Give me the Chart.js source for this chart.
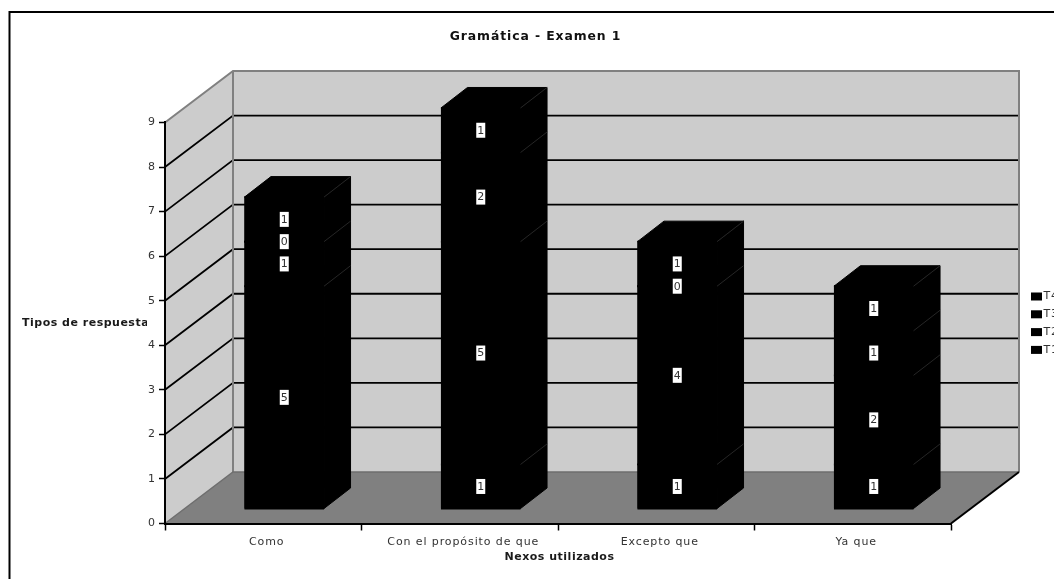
<!DOCTYPE html>
<html>
<head>
<meta charset="utf-8">
<style>
html,body{margin:0;padding:0;background:#fff;overflow:hidden;width:1054px;height:579px}
canvas{display:block}
</style>
<script src="https://cdn.jsdelivr.net/npm/chart.js@4"></script>
</head>
<body>
<canvas id="c" width="1054" height="579"></canvas>
<script>
// Stacked answer counts per connector
const categories = ['Como', 'Con el propósito de que', 'Excepto que', 'Ya que'];
const t1 = [5, 1, 1, 1];
const t2 = [1, 5, 4, 2];
const t3 = [0, 2, 0, 1];
const t4 = [1, 1, 1, 1];
const seriesNames = ['T1', 'T2', 'T3', 'T4'];
const chartTitle = 'Gramática - Examen 1';
const xCaption = 'Nexos utilizados';
const yCaption = 'Tipos de respuesta';

// Projection of the box: how far the back wall sits from the front plane,
// and where the columns stand inside that depth.
const WALL_DX = 68, WALL_DY = -51.5;
const BAR_SHIFT_X = 21, BAR_SHIFT_Y = -14.5;
const BAR_DX = 26.5, BAR_DY = -20.5;
const FONT = 'DejaVu Sans, Verdana, sans-serif';
const SPACING = '0.9px';

function poly(ctx, pts, fill, stroke, lw) {
  ctx.beginPath();
  pts.forEach((p, i) => i ? ctx.lineTo(p[0], p[1]) : ctx.moveTo(p[0], p[1]));
  ctx.closePath();
  if (fill) { ctx.fillStyle = fill; ctx.fill(); }
  if (stroke) { ctx.strokeStyle = stroke; ctx.lineWidth = lw || 1; ctx.stroke(); }
}
function line(ctx, pts, color, lw) {
  ctx.beginPath();
  pts.forEach((p, i) => i ? ctx.lineTo(p[0], p[1]) : ctx.moveTo(p[0], p[1]));
  ctx.strokeStyle = color; ctx.lineWidth = lw; ctx.stroke();
}

const box3d = {
  id: 'box3d',
  beforeDraw(chart) {
    const { ctx, chartArea: a, scales: { y } } = chart;
    ctx.letterSpacing = SPACING;
    ctx.save();
    // outer frame, running past the right and bottom of the page
    ctx.strokeStyle = '#000'; ctx.lineWidth = 2;
    ctx.strokeRect(9.5, 12, 1200, 800);
    const L = a.left, R = a.right, T = a.top, B = a.bottom;
    const bx = L + WALL_DX, rx = R + WALL_DX, dy = WALL_DY;
    // side wall, back wall, floor
    poly(ctx, [[L, B], [bx, B + dy], [bx, T + dy], [L, T]], '#cccccc');
    poly(ctx, [[bx, B + dy], [rx, B + dy], [rx, T + dy], [bx, T + dy]], '#cccccc');
    poly(ctx, [[L, B], [R, B], [rx, B + dy], [bx, B + dy]], '#808080');
    // gridlines wrap around the side and back walls
    y.ticks.forEach(t => {
      if (t.value === 0 || t.value === y.max) return;
      const py = y.getPixelForValue(t.value);
      line(ctx, [[L, py], [bx, py + dy], [rx, py + dy]], '#000', 1.8);
    });
    // wall outlines
    line(ctx, [[L, T], [bx, T + dy], [rx, T + dy], [rx, B + dy]], '#808080', 2);
    line(ctx, [[bx, T + dy], [bx, B + dy]], '#808080', 2);
    line(ctx, [[L, B], [bx, B + dy], [rx, B + dy]], '#6e6e6e', 1.5);
    line(ctx, [[R, B], [rx, B + dy]], '#000', 2);
    ctx.restore();
  },
  beforeDatasetsDraw(chart) {
    const { ctx } = chart;
    ctx.save();
    ctx.translate(BAR_SHIFT_X, BAR_SHIFT_Y);
    // side and top faces of each stacked segment
    chart.data.datasets.forEach((ds, i) => {
      chart.getDatasetMeta(i).data.forEach(el => {
        const r = el.x + el.width / 2, l = el.x - el.width / 2;
        poly(ctx, [[r, el.base], [r + BAR_DX, el.base + BAR_DY], [r + BAR_DX, el.y + BAR_DY], [r, el.y]], '#000', '#000', 1);
        poly(ctx, [[l, el.y], [l + BAR_DX, el.y + BAR_DY], [r + BAR_DX, el.y + BAR_DY], [r, el.y]], '#000', '#000', 1);
      });
    });
  },
  afterDatasetsDraw(chart) {
    const { ctx } = chart;
    // paint over hairlines between the stacked front faces
    chart.data.datasets.forEach((ds, i) => {
      chart.getDatasetMeta(i).data.forEach(el => {
        const l = el.x - el.width / 2;
        ctx.fillStyle = '#000';
        ctx.fillRect(l, el.y - 1, el.width, el.base - el.y + 2);
      });
    });
    // faint seams between segments on the side faces
    chart.data.datasets.forEach((ds, i) => {
      chart.getDatasetMeta(i).data.forEach((el, j) => {
        if (ds.data[j] === 0) return;
        const r = el.x + el.width / 2;
        line(ctx, [[r, el.y], [r + BAR_DX, el.y + BAR_DY]], '#262626', 1);
      });
    });
    ctx.restore();
    // value labels on the front faces
    ctx.save();
    ctx.font = '11px ' + FONT;
    ctx.textAlign = 'center';
    ctx.textBaseline = 'middle';
    ctx.letterSpacing = '0px';
    chart.data.datasets.forEach((ds, i) => {
      chart.getDatasetMeta(i).data.forEach((el, j) => {
        const cx = el.x + BAR_SHIFT_X;
        const cy = (el.y + el.base) / 2 + BAR_SHIFT_Y;
        ctx.fillStyle = '#fff';
        ctx.fillRect(cx - 4.5, cy - 7.5, 9, 15);
        ctx.fillStyle = '#333';
        ctx.fillText(String(ds.data[j]), cx, cy + 0.5);
      });
    });
    ctx.restore();
  },
  afterDraw(chart) {
    const { ctx } = chart;
    ctx.save();
    ctx.letterSpacing = '0.5px';
    ctx.fillStyle = '#1a1a1a';
    ctx.textBaseline = 'middle';
    // axis captions; the left one is cut off just before the axis
    ctx.font = 'bold 11px ' + FONT;
    ctx.textAlign = 'center';
    ctx.fillText(xCaption, 559.5, 557);
    ctx.textAlign = 'left';
    ctx.save();
    ctx.beginPath();
    ctx.rect(0, 300, 147, 50);
    ctx.clip();
    ctx.fillText(yCaption, 22, 323);
    ctx.restore();
    // series key, top item last in the stack
    ctx.font = '11px ' + FONT;
    ctx.letterSpacing = SPACING;
    chart.data.datasets.slice().reverse().forEach((ds, i) => {
      const y = 296.5 + i * 17.8;
      ctx.fillStyle = ds.backgroundColor;
      ctx.fillRect(1031, y - 4, 11, 8);
      ctx.fillStyle = '#333';
      ctx.fillText(ds.label, 1043.5, y);
    });
    ctx.restore();
  }
};

new Chart(document.getElementById('c'), {
  type: 'bar',
  data: {
    labels: categories,
    datasets: [t1, t2, t3, t4].map((values, i) => ({
      label: seriesNames[i],
      data: values,
      backgroundColor: '#000',
      borderWidth: 0,
      clip: false,
      categoryPercentage: 1,
      barPercentage: 0.405
    }))
  },
  plugins: [box3d],
  options: {
    responsive: false,
    animation: false,
    events: [],
    layout: { padding: { left: 120, right: 103, top: 12, bottom: 0 } },
    plugins: {
      legend: { display: false },
      tooltip: { enabled: false },
      title: {
        display: true,
        text: chartTitle,
        color: '#111',
        font: { family: FONT, size: 12.4, weight: 'bold', lineHeight: 1.2 },
        padding: { top: 17, bottom: 78.6 }
      }
    },
    scales: {
      x: {
        stacked: true,
        grid: { drawOnChartArea: false, drawTicks: true, tickLength: 7, tickColor: '#000', tickWidth: 1.5 },
        border: { color: '#000', width: 2 },
        ticks: { color: '#333', font: { family: FONT, size: 11 }, padding: 5, labelOffset: 3.5, maxRotation: 0, autoSkip: false },
        afterFit(s) { s.height = 55.5; }
      },
      y: {
        stacked: true,
        min: 0,
        max: 9,
        grid: { drawOnChartArea: false, drawTicks: true, tickLength: 6, tickColor: '#000', tickWidth: 1.5 },
        border: { color: '#000', width: 2 },
        ticks: { stepSize: 1, color: '#333', font: { family: FONT, size: 11 }, padding: 3 },
        afterFit(s) { s.width = 45; }
      }
    }
  }
});
</script>
</body>
</html>
